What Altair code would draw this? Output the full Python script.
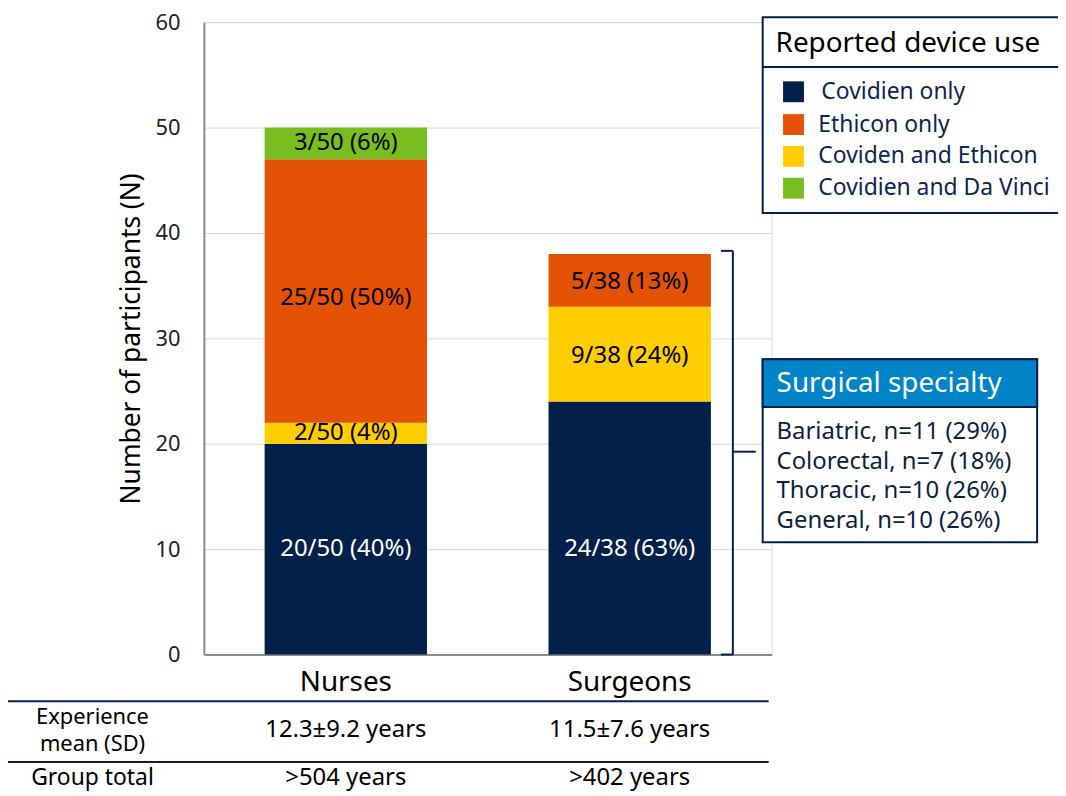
import altair as alt
import pandas as pd

# ---- data ----
groups = ["Nurses", "Nurses", "Nurses", "Nurses", "Surgeons", "Surgeons", "Surgeons"]
devices = ["Covidien only", "Coviden and Ethicon", "Ethicon only", "Covidien and Da Vinci",
           "Covidien only", "Coviden and Ethicon", "Ethicon only"]
counts = [20, 2, 25, 3, 24, 9, 5]
bar_labels = ["20/50 (40%)", "2/50 (4%)", "25/50 (50%)", "3/50 (6%)",
              "24/38 (63%)", "9/38 (24%)", "5/38 (13%)"]
label_pos = [10, 21, 33.8, 48.5, 10, 28.3, 35.3]

legend_items = ["Covidien only", "Ethicon only", "Coviden and Ethicon", "Covidien and Da Vinci"]
legend_colors = ["#03204a", "#e35205", "#ffcd00", "#78be20"]

specialties = ["Bariatric, n=11 (29%)", "Colorectal, n=7 (18%)",
               "Thoracic, n=10 (26%)", "General, n=10 (26%)"]

table_groups = ["Nurses", "Surgeons"]
exp_mean = ["12.3±9.2 years", "11.5±7.6 years"]
group_total = [">504 years", ">402 years"]

FONT = "Noto Sans"
NAVY = "#03204a"

df = pd.DataFrame({"group": groups, "device": devices, "count": counts,
                   "label": bar_labels, "pos": label_pos})
df["y1"] = df.groupby("group")["count"].cumsum()
df["y0"] = df["y1"] - df["count"]
df["txtcolor"] = ["white" if d == "Covidien only" else "black" for d in df["device"]]

tdf = pd.DataFrame({"group": table_groups, "mean": exp_mean, "total": group_total})
one = pd.DataFrame({"k": [0]})

# page-to-plot offsets
OX, OY = 205, 20
W, H = 571, 636


def px(x):
    return x - OX


def py(y):
    return y - OY


xscale = alt.Scale(domain=table_groups, paddingInner=0.428, paddingOuter=0.214)
xenc = alt.X("group:N", scale=xscale,
             axis=alt.Axis(title=None, labelAngle=0, labelFontSize=28, labelColor="black",
                           labelFont=FONT, labelPadding=14, ticks=False,
                           domainColor="#8c8c8c", domainWidth=2))
yscale = alt.Scale(domain=[0, 60])

bars = alt.Chart(df).mark_bar().encode(
    x=xenc,
    y=alt.Y("y0:Q", scale=yscale,
            axis=alt.Axis(title="Number of participants (N)", titleFontSize=26.5,
                          titleFont=FONT, titleFontWeight="normal", titleColor="black",
                          titlePadding=10, values=[0, 10, 20, 30, 40, 50, 60],
                          labelFontSize=22, labelFont=FONT, labelColor="#222222",
                          labelPadding=24, ticks=False, gridColor="#d9d9d9",
                          domainColor="#8c8c8c", domainWidth=2)),
    y2="y1:Q",
    color=alt.Color("device:N", scale=alt.Scale(domain=legend_items, range=legend_colors),
                    legend=None),
)

bar_text = alt.Chart(df).mark_text(fontSize=24, font=FONT, baseline="middle").encode(
    x=alt.X("group:N", scale=xscale),
    y=alt.Y("pos:Q", scale=yscale),
    text="label:N",
    color=alt.Color("txtcolor:N", scale=None),
)

layers = [bars, bar_text]


def rule(x, x2, y, y2, color=NAVY, w=2):
    return alt.Chart(one).mark_rule(color=color, strokeWidth=w).encode(
        x=alt.value(px(x)), x2=alt.value(px(x2)), y=alt.value(py(y)), y2=alt.value(py(y2)))


def box(x, x2, y, y2, fill, stroke=NAVY, sw=2):
    return alt.Chart(one).mark_rect(fill=fill, stroke=stroke, strokeWidth=sw).encode(
        x=alt.value(px(x)), x2=alt.value(px(x2)), y=alt.value(py(y)), y2=alt.value(py(y2)))


def label(txt, x, y, size, color, align="left"):
    return alt.Chart(one).mark_text(text=txt, fontSize=size, font=FONT, color=color,
                                    align=align, baseline="middle").encode(
        x=alt.value(px(x)), y=alt.value(py(y)))


# bracket for surgeons
layers += [rule(737, 737, 250, 656), rule(725, 737, 250, 250), rule(725, 737, 656, 656),
           rule(737, 760, 452, 452)]

# legend box
layers += [box(767, 1090, 15, 212, "white"), rule(767, 1090, 65, 65),
           label("Reported device use", 780, 42, 28, "black")]
rows_y = [90, 123, 155, 187]
for i, (name, col) in enumerate(zip(legend_items, legend_colors)):
    layers.append(alt.Chart(one).mark_square(size=441, color=col, opacity=1).encode(
        x=alt.value(px(798)), y=alt.value(py(rows_y[i]))))
    layers.append(label(name, 826 if i == 0 else 823, rows_y[i], 23, "#0b2550"))

# specialty box
layers += [box(767, 1043, 359, 543, "white"), box(767, 1043, 359, 407, "#0083c7"),
           label("Surgical specialty", 781, 384, 28, "white")]
for i, s in enumerate(specialties):
    layers.append(label(s, 781, 432 + 30 * i, 24, "#0b1f3f"))

# table below
layers += [rule(0, 773, 703, 703), rule(0, 773, 764, 764),
           label("Experience", 93, 719, 22, "black", "center"),
           label("mean (SD)", 93, 746, 22, "black", "center"),
           label("Group total", 93, 780, 23, "black", "center")]
layers.append(alt.Chart(tdf).mark_text(fontSize=24, font=FONT, color="black").encode(
    x=alt.X("group:N", scale=xscale), y=alt.value(py(732)), text="mean:N"))
layers.append(alt.Chart(tdf).mark_text(fontSize=24, font=FONT, color="black").encode(
    x=alt.X("group:N", scale=xscale), y=alt.value(py(780)), text="total:N"))

chart = alt.layer(*layers).properties(
    width=W, height=H,
    autosize=alt.AutoSizeParams(type="none"),
    padding={"left": OX - 8, "top": OY - 8, "right": 1056 - (OX - 8) - W,
             "bottom": 786 - (OY - 8) - H},
).configure_view(stroke=None).configure(font=FONT)

chart.save("out.html", embed_options={"renderer": "svg", "actions": False})
